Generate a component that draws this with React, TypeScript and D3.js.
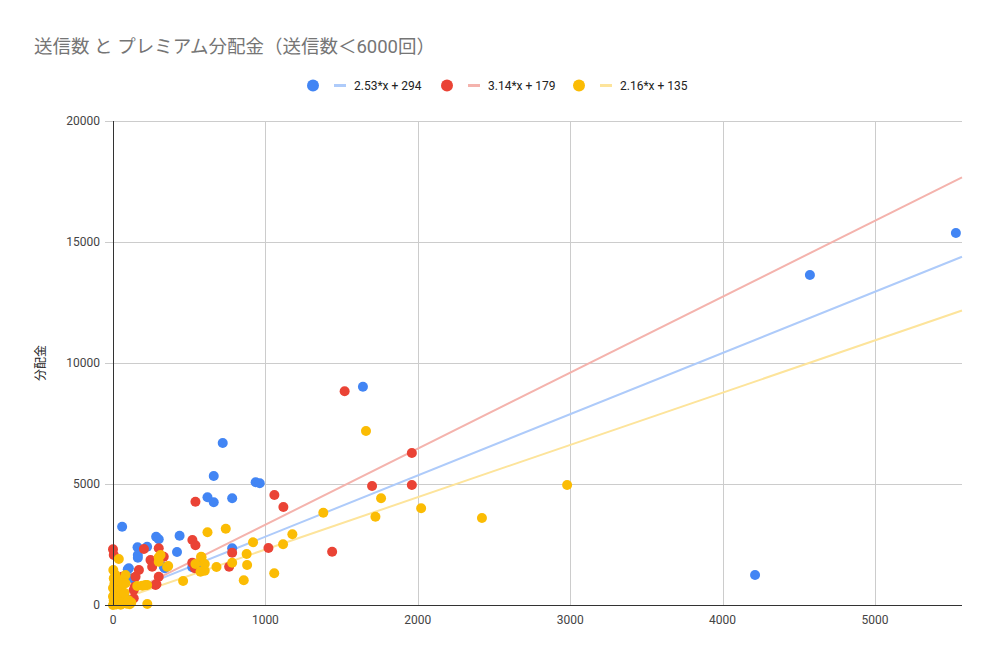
import React, { useEffect, useRef } from "react";
import * as d3 from "d3";

const width = 996;
const height = 659;

const title = "送信数 と プレミアム分配金（送信数＜6000回）";
const yLabel = "分配金";

const xTicks = [0, 1000, 2000, 3000, 4000, 5000];
const yTicks = [0, 5000, 10000, 15000, 20000];

// [送信数, 分配金]
const bluePoints: [number, number][] = [
    [5531, 15372], [4573, 13636], [4213, 1240], [1640, 9020], [720, 6694], [661, 5330],
    [936, 5070], [963, 5029], [620, 4450], [661, 4243], [782, 4409], [60, 3236],
    [283, 2822], [300, 2715], [437, 2864], [420, 2190], [161, 2384], [224, 2409],
    [163, 1955], [163, 2066], [782, 2343], [520, 1558], [552, 1653], [340, 1516],
    [333, 1583], [104, 1517], [126, 1103], [97, 1475], [30, 400], [15, 200],
    [50, 700], [10, 100], [80, 300]
];

const redPoints: [number, number][] = [
    [1520, 8830], [1961, 6281], [1700, 4917], [1961, 4959], [1059, 4545], [1118, 4050],
    [541, 4269], [1020, 2355], [1438, 2202], [521, 2686], [541, 2467], [203, 2314],
    [300, 2343], [0, 2300], [5, 2066], [300, 1930], [246, 1860], [257, 1583],
    [782, 2161], [762, 1583], [520, 1748], [537, 1516], [333, 1996], [300, 1169],
    [285, 855], [170, 1446], [148, 1170], [60, 1170], [136, 620], [136, 277],
    [143, 756], [279, 826], [20, 1000], [40, 600], [10, 300]
];

const yellowPoints: [number, number][] = [
    [1660, 7190], [1759, 4408], [1380, 3814], [1722, 3650], [2022, 3995], [2421, 3595],
    [2980, 4959], [620, 3004], [740, 3153], [578, 1996], [919, 2591], [1177, 2921],
    [1116, 2508], [877, 2107], [1058, 1310], [858, 1020], [679, 1570], [460, 992],
    [782, 1748], [880, 1653], [581, 1971], [602, 1694], [574, 1376], [602, 1417],
    [541, 1694], [362, 1612], [355, 1583], [300, 1971], [300, 1790], [312, 2066],
    [159, 785], [192, 798], [224, 826], [213, 826], [225, 41], [38, 1900],
    [2, 1446], [38, 1033], [82, 1240], [82, 897], [5, 1100], [10, 900],
    [20, 800], [0, 700], [15, 600], [30, 500], [45, 400], [60, 300],
    [5, 200], [25, 150], [40, 100], [70, 80], [90, 50], [110, 30],
    [0, 0], [20, 20], [50, 10], [10, 450], [35, 700], [55, 600],
    [75, 500], [100, 200], [0, 350], [60, 900], [30, 1000], [120, 100], [15, 1250]
];

const series = [
    { points: bluePoints, color: "#4285f4", line: "#aecbfa", slope: 2.53, intercept: 294, label: "2.53*x + 294" },
    { points: redPoints, color: "#ea4335", line: "#f4b3ad", slope: 3.14, intercept: 179, label: "3.14*x + 179" },
    { points: yellowPoints, color: "#fbbc04", line: "#fde49b", slope: 2.16, intercept: 135, label: "2.16*x + 135" }
];

const font = "Roboto, 'Noto Sans CJK JP', sans-serif";

const App = () => {
    const ref = useRef<SVGSVGElement>(null);

    useEffect(() => {
        document.body.style.margin = "0";
        const svg = d3.select(ref.current);
        svg.selectAll("*").remove();

        const x = d3.scaleLinear().domain([0, 5571]).range([113, 962]);
        const y = d3.scaleLinear().domain([0, 20000]).range([605, 121]);

        svg.append("rect").attr("width", width).attr("height", height).attr("fill", "#fff");

        svg.append("text")
            .attr("x", 34).attr("y", 53)
            .attr("font-family", font).attr("font-size", 18.5)
            .attr("fill", "#757575")
            .text(title);

        // gridlines
        const grid = svg.append("g").attr("stroke", "#cccccc").attr("stroke-width", 1);
        grid.selectAll("line.h")
            .data(yTicks.filter(d => d > 0))
            .join("line")
            .attr("x1", 105).attr("x2", 962)
            .attr("y1", d => Math.round(y(d)) + 0.5).attr("y2", d => Math.round(y(d)) + 0.5);
        grid.selectAll("line.v")
            .data(xTicks.filter(d => d > 0))
            .join("line")
            .attr("x1", d => Math.round(x(d)) + 0.5).attr("x2", d => Math.round(x(d)) + 0.5)
            .attr("y1", 121).attr("y2", 605);

        // tick labels
        svg.append("g")
            .attr("font-family", font).attr("font-size", 12).attr("fill", "#444")
            .attr("text-anchor", "end")
            .selectAll("text")
            .data(yTicks)
            .join("text")
            .attr("x", 100).attr("y", d => y(d) + 4)
            .text(d => d);
        svg.append("g")
            .attr("font-family", font).attr("font-size", 12).attr("fill", "#444")
            .attr("text-anchor", "middle")
            .selectAll("text")
            .data(xTicks)
            .join("text")
            .attr("x", d => x(d)).attr("y", 624)
            .text(d => d);

        svg.append("text")
            .attr("transform", `translate(45,${(y(0) + y(20000)) / 2}) rotate(-90)`)
            .attr("text-anchor", "middle")
            .attr("font-family", font).attr("font-size", 12).attr("fill", "#222")
            .text(yLabel);

        // trendlines
        series.forEach(s => {
            svg.append("path")
                .attr("fill", "none")
                .attr("stroke", s.line)
                .attr("stroke-width", 2)
                .attr("d", d3.line<number>().x(d => x(d)).y(d => y(s.slope * d + s.intercept))(x.domain()) as string);
        });

        // points
        series.forEach(s => {
            svg.append("g")
                .attr("fill", s.color)
                .selectAll("circle")
                .data(s.points)
                .join("circle")
                .attr("cx", d => x(d[0]))
                .attr("cy", d => y(d[1]))
                .attr("r", 5);
        });

        // axes
        svg.append("line").attr("x1", 113.5).attr("x2", 113.5).attr("y1", 121).attr("y2", 605).attr("stroke", "#333");
        svg.append("line").attr("x1", 105).attr("x2", 962).attr("y1", 605.5).attr("y2", 605.5).attr("stroke", "#333");

        // legend
        const legendX = [313, 447, 579];
        const legend = svg.append("g").attr("font-family", font).attr("font-size", 12).attr("fill", "#222");
        series.forEach((s, i) => {
            const lx = legendX[i];
            legend.append("circle").attr("cx", lx).attr("cy", 85.5).attr("r", 6).attr("fill", s.color);
            legend.append("rect").attr("x", lx + 21).attr("y", 84).attr("width", 12).attr("height", 3).attr("fill", s.line);
            legend.append("text").attr("x", lx + 41).attr("y", 90).text(s.label);
        });
    }, []);

    return <svg ref={ref} width={width} height={height} style={{ display: "block" }} />;
};

export default App;
